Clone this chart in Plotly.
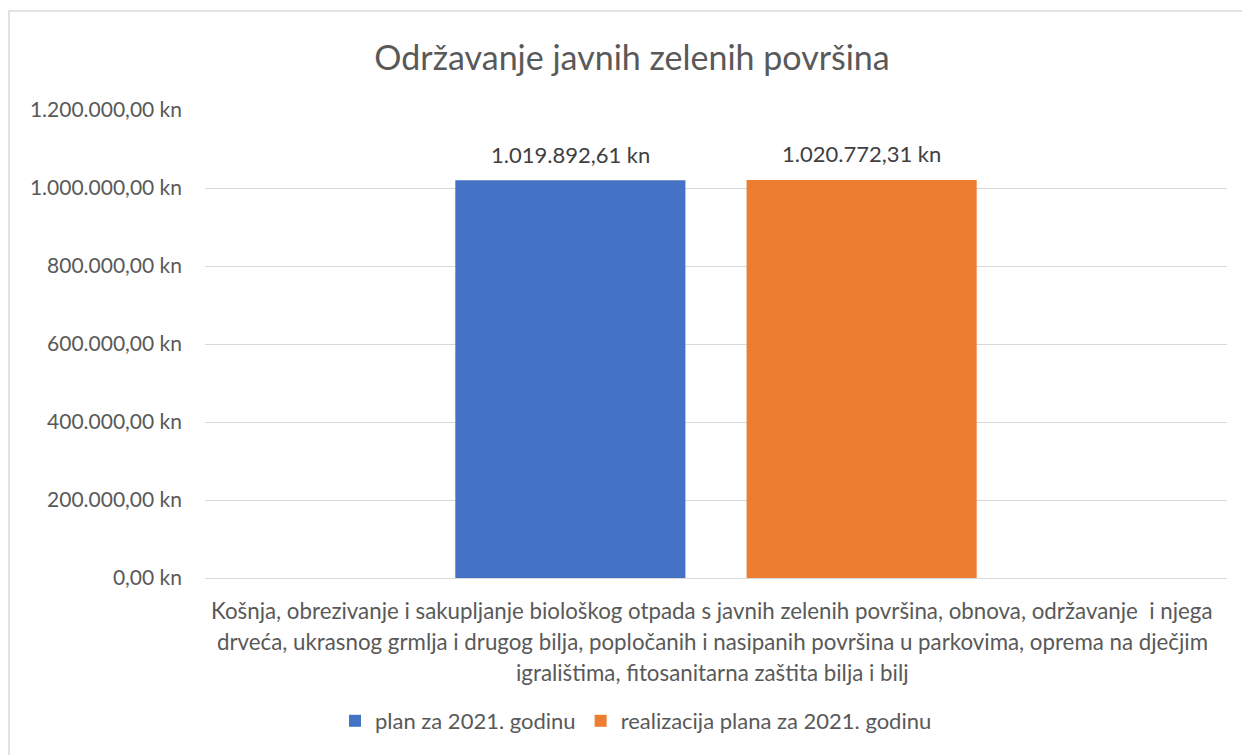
import plotly.graph_objects as go

# ---- data ----
category_lines = [
    "Košnja, obrezivanje i sakupljanje biološkog otpada s javnih zelenih površina, obnova, održavanje  i njega",
    "drveća, ukrasnog grmlja i drugog bilja, popločanih i nasipanih površina u parkovima, oprema na dječjim",
    "igralištima, fitosanitarna zaštita bilja i bilj",
]
category = " ".join(category_lines)
series_names = ["plan za 2021. godinu", "realizacija plana za 2021. godinu"]
series_values = [1019892.61, 1020772.31]
series_colors = ["#4472C4", "#ED7D31"]
y_ticks = [0, 200000, 400000, 600000, 800000, 1000000, 1200000]
title_text = "Održavanje javnih zelenih površina"


def hr_money(v):
    s = f"{v:,.2f}"
    return s.replace(",", "X").replace(".", ",").replace("X", ".") + " kn"


y_ticktext = [hr_money(v) for v in y_ticks]

FONT = "Lato"
GREY = "#595959"

# page is offset by the 8px body margin
OFF = 8
W, H = 1242, 747
# plot area in page pixels: x 205..1227, y 110..578
L = 205 - OFF
R = W - (1227 - OFF)
T = 110 - OFF
B = H - (578 - OFF)
pw, ph = W - L - R, H - T - B


def px_x(px):
    return (px - OFF - L) / pw


def px_y(py):
    return (H - B - (py - OFF)) / ph


def cont_x(px):
    return (px - OFF) / W


def cont_y(py):
    return 1 - (py - OFF) / H


BARGAP, BARGROUPGAP = 0.43, 0.21
n = len(series_values)
slot_px = pw * (1 - BARGAP) / n

fig = go.Figure()
annotations = []
for i, (name, val, col) in enumerate(zip(series_names, series_values, series_colors)):
    fig.add_trace(go.Bar(
        x=[category], y=[val], name=name,
        marker=dict(color=col, line=dict(width=0)),
        cliponaxis=False,
    ))
    # data label above each bar
    annotations.append(dict(
        x=category, xref="x", y=val, yref="y",
        xshift=(i - (n - 1) / 2) * slot_px, yshift=26,
        text=hr_money(val), showarrow=False,
        xanchor="center", yanchor="middle",
        font=dict(family=FONT, size=22, color="#404040"),
    ))

for i, line in enumerate(category_lines):
    annotations.append(dict(
        x=px_x(712), xref="paper", y=px_y(610 + 31 * i), yref="paper",
        text=line, showarrow=False, xanchor="center", yanchor="middle",
        font=dict(family=FONT, size=22.3, color=GREY),
    ))

fig.update_layout(
    width=W, height=H,
    margin=dict(l=L, r=R, t=T, b=B, autoexpand=False),
    paper_bgcolor="white", plot_bgcolor="white",
    title=dict(text=title_text, x=cont_x(632), xanchor="center",
               y=cont_y(58), yanchor="middle", yref="container",
               font=dict(family=FONT, size=34, color=GREY)),
    barmode="group", bargap=BARGAP, bargroupgap=BARGROUPGAP,
    showlegend=True,
    legend=dict(orientation="h", x=cont_x(636), xanchor="center", xref="container",
                y=cont_y(721), yref="container", yanchor="middle",
                font=dict(family=FONT, size=22, color=GREY),
                itemwidth=30, traceorder="normal"),
    xaxis=dict(showticklabels=False, showline=False, showgrid=False, ticks=""),
    yaxis=dict(range=[0, 1200000], tickvals=y_ticks, ticktext=y_ticktext,
               showgrid=True, gridcolor="#D9D9D9", gridwidth=1.3,
               zeroline=True, zerolinecolor="#D9D9D9", zerolinewidth=1.3,
               showline=False, ticks="", ticklabelstandoff=22,
               tickfont=dict(family=FONT, size=21, color=GREY)),
    annotations=annotations,
    shapes=[dict(type="rect", xref="paper", yref="paper",
                 x0=px_x(9), x1=px_x(1290), y0=px_y(800), y1=px_y(11),
                 line=dict(color="#D9D9D9", width=1.5), fillcolor="rgba(0,0,0,0)",
                 layer="below")],
)

fig.write_html("out.html")
